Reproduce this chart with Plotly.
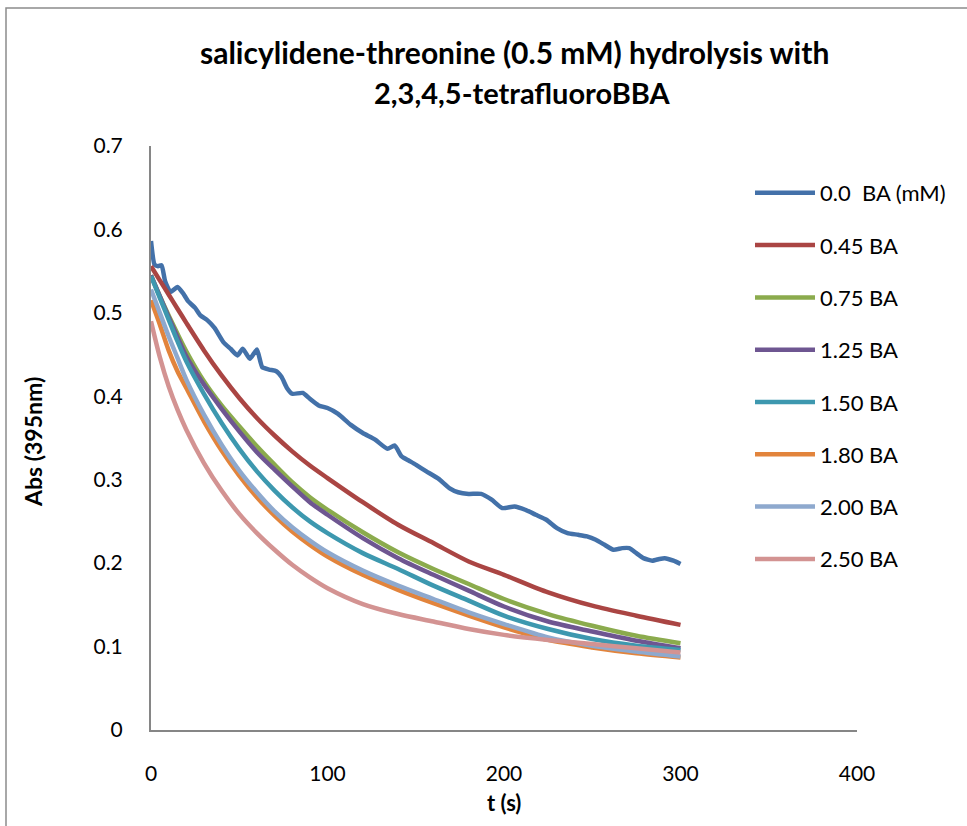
import plotly.graph_objects as go

# ---------------- data ----------------
t_blue = [0, 2, 4, 6, 8, 11, 15, 18, 21, 25, 28, 32, 36, 41, 45, 49, 52, 56, 60, 63,
          67, 71, 74, 77, 80, 86, 90, 95, 100, 106, 113, 120, 127, 134, 138, 142, 146,
          150, 156, 163, 169, 174, 180, 187, 193, 199, 206, 212, 218, 224, 230, 236,
          242, 247, 252, 257, 262, 267, 271, 275, 279, 284, 288, 291, 296, 300]
abs_00 = [0.586, 0.558, 0.556, 0.557, 0.538, 0.525, 0.531, 0.524, 0.514, 0.506, 0.497,
          0.491, 0.482, 0.465, 0.457, 0.449, 0.457, 0.445, 0.456, 0.435, 0.432, 0.43,
          0.423, 0.41, 0.403, 0.404, 0.397, 0.389, 0.386, 0.379, 0.366, 0.356, 0.348,
          0.337, 0.341, 0.328, 0.323, 0.318, 0.31, 0.301, 0.29, 0.285, 0.283, 0.283,
          0.276, 0.266, 0.268, 0.264, 0.258, 0.252, 0.242, 0.236, 0.234, 0.232, 0.228,
          0.222, 0.216, 0.218, 0.218, 0.212, 0.206, 0.203, 0.205, 0.206, 0.203, 0.199]

t_grid = [0, 5, 10, 15, 20, 30, 40, 50, 60, 70, 80, 90, 100, 120, 140, 160, 180, 200,
          225, 250, 275, 300]
abs_045 = [0.556, 0.539, 0.522, 0.505, 0.488, 0.455, 0.425, 0.398, 0.374, 0.353, 0.334,
           0.317, 0.302, 0.273, 0.246, 0.224, 0.202, 0.186, 0.165, 0.149, 0.137, 0.126]
abs_075 = [0.545, 0.520, 0.497, 0.475, 0.454, 0.418, 0.389, 0.364, 0.340, 0.318, 0.297,
           0.279, 0.264, 0.237, 0.213, 0.193, 0.175, 0.157, 0.139, 0.125, 0.113, 0.104]
abs_125 = [0.545, 0.520, 0.495, 0.471, 0.448, 0.414, 0.385, 0.358, 0.333, 0.312, 0.292,
           0.273, 0.258, 0.230, 0.206, 0.186, 0.167, 0.148, 0.130, 0.118, 0.107, 0.098]
abs_150 = [0.544, 0.518, 0.492, 0.466, 0.442, 0.403, 0.368, 0.337, 0.310, 0.287, 0.267,
           0.250, 0.236, 0.212, 0.193, 0.173, 0.155, 0.137, 0.121, 0.109, 0.101, 0.096]
abs_180 = [0.515, 0.486, 0.455, 0.430, 0.410, 0.370, 0.335, 0.305, 0.279, 0.257, 0.238,
           0.222, 0.208, 0.186, 0.168, 0.152, 0.137, 0.123, 0.108, 0.099, 0.092, 0.087]
abs_200 = [0.528, 0.500, 0.472, 0.446, 0.420, 0.378, 0.342, 0.311, 0.285, 0.262, 0.243,
           0.227, 0.213, 0.191, 0.173, 0.157, 0.141, 0.127, 0.111, 0.101, 0.094, 0.088]
abs_250 = [0.490, 0.447, 0.412, 0.384, 0.360, 0.320, 0.287, 0.259, 0.236, 0.216, 0.198,
           0.183, 0.170, 0.151, 0.139, 0.130, 0.121, 0.114, 0.108, 0.103, 0.098, 0.093]

series_names = ["0.0\u00a0 BA (mM)", "0.45 BA", "0.75 BA", "1.25 BA", "1.50 BA",
                "1.80 BA", "2.00 BA", "2.50 BA"]
series_x = [t_blue, t_grid, t_grid, t_grid, t_grid, t_grid, t_grid, t_grid]
series_y = [abs_00, abs_045, abs_075, abs_125, abs_150, abs_180, abs_200, abs_250]
series_colors = ["#4371A9", "#AA4543", "#8BAB4D", "#6E5691", "#3D98AF", "#E2843C",
                 "#8EA9CE", "#D39392"]

x_ticks = [0, 100, 200, 300, 400]
y_ticks = [0, 0.1, 0.2, 0.3, 0.4, 0.5, 0.6, 0.7]

FONT = "Lato, 'Open Sans', sans-serif"

fig = go.Figure()
for i, (name, xs, ys, col) in enumerate(zip(series_names, series_x, series_y, series_colors)):
    fig.add_trace(go.Scatter(
        x=xs, y=ys, name=name, mode="lines",
        line=dict(color=col, width=4.5, shape="spline",
                  smoothing=0.5 if i == 0 else 0.8),
        legendgroup=f"g{i}",
    ))

W, H = 967, 826
L, R, T, B = 151, 110, 146, 96
pw, ph = W - L - R, H - T - B

def px2paper_x(px):
    return (px - L) / pw

def px2paper_y(py):
    return (H - B - py) / ph

fig.update_layout(
    width=W, height=H,
    margin=dict(l=L, r=R, t=T, b=B, autoexpand=False),
    paper_bgcolor="white", plot_bgcolor="white",
    font=dict(family=FONT, size=21, color="#000000"),
    showlegend=True,
    legend=dict(
        x=px2paper_x(750), y=px2paper_y(172), xanchor="left", yanchor="top",
        font=dict(family=FONT, size=22, color="#000000"),
        tracegroupgap=20.7, itemwidth=60, bgcolor="rgba(0,0,0,0)",
    ),
    xaxis=dict(
        range=[0, 400], tickvals=x_ticks, showgrid=False, zeroline=False,
        showline=True, linecolor="#868686", linewidth=2, ticks="",
        tickfont=dict(family=FONT, size=21), ticklabelstandoff=24,
    ),
    yaxis=dict(
        range=[0, 0.7], tickvals=y_ticks, showgrid=False, zeroline=False,
        showline=True, linecolor="#868686", linewidth=2, ticks="",
        tickfont=dict(family=FONT, size=21), ticklabelstandoff=22,
    ),
    shapes=[dict(type="rect", xref="paper", yref="paper",
                 x0=px2paper_x(6), x1=px2paper_x(1100),
                 y0=px2paper_y(1000), y1=px2paper_y(8),
                 line=dict(color="#8C8C8C", width=1.5), fillcolor="rgba(0,0,0,0)",
                 layer="below")],
    annotations=[
        dict(text="<b>salicylidene-threonine (0.5 mM) hydrolysis with</b>",
             xref="paper", yref="paper", x=px2paper_x(514), y=px2paper_y(52),
             xanchor="center", yanchor="middle", showarrow=False,
             font=dict(family=FONT, size=30, color="#000000")),
        dict(text="<b>2,3,4,5-tetrafluoroBBA</b>",
             xref="paper", yref="paper", x=px2paper_x(522), y=px2paper_y(93),
             xanchor="center", yanchor="middle", showarrow=False,
             font=dict(family=FONT, size=29, color="#000000")),
        dict(text="<b>Abs (395nm)</b>", textangle=-90,
             xref="paper", yref="paper", x=px2paper_x(33), y=px2paper_y(442),
             xanchor="center", yanchor="middle", showarrow=False,
             font=dict(family=FONT, size=23, color="#000000")),
        dict(text="<b>t (s)</b>",
             xref="paper", yref="paper", x=px2paper_x(504), y=px2paper_y(802),
             xanchor="center", yanchor="middle", showarrow=False,
             font=dict(family=FONT, size=22, color="#000000")),
    ],
)

fig.write_html("out.html", config={"displayModeBar": False},
               post_script="document.body.style.margin='0';document.body.style.overflow='hidden';")
